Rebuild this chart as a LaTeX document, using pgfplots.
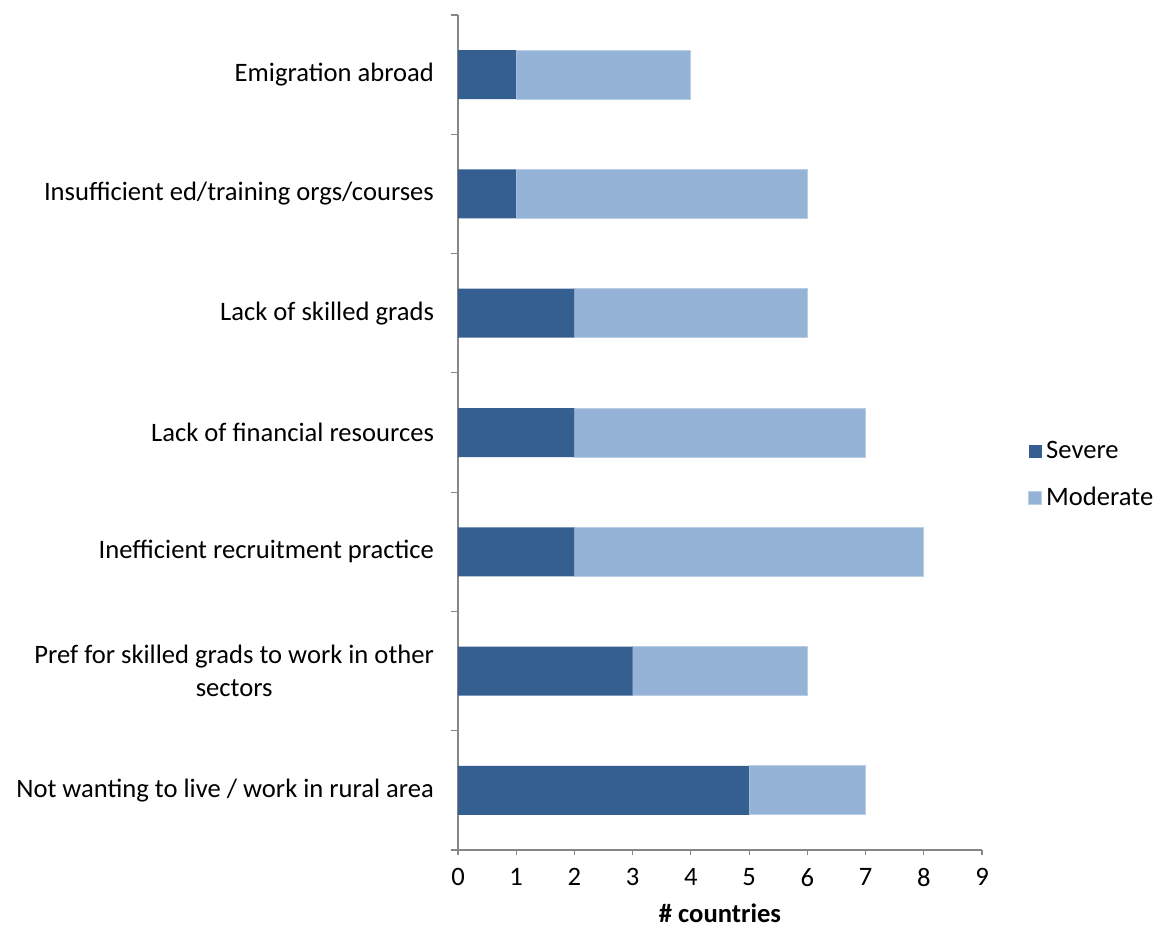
\documentclass[border=0pt]{standalone}
\usepackage{pgfplots}
\pgfplotsset{compat=1.18}
\usepackage{fontspec}
\setmainfont{Carlito}
\definecolor{sev}{RGB}{54,95,145}
\definecolor{mod}{RGB}{149,179,215}
\definecolor{modedge}{RGB}{185,205,229}
\definecolor{axgray}{RGB}{134,134,134}
\begin{document}
\begin{tikzpicture}
\useasboundingbox (0,0) rectangle (578pt,464pt);
\begin{axis}[
  at={(229pt,39pt)}, anchor=south west,
  scale only axis, width=262pt, height=417.5pt,
  xbar stacked, bar width=24.5pt,
  xmin=0, xmax=9, ymin=-0.5, ymax=6.5,
  xtick={0,...,9}, ytick={0,...,6},
  yticklabels={Not wanting to live / work in rural area,
    {Pref for skilled grads to work in other\\sectors},
    Inefficient recruitment practice,
    Lack of financial resources,
    Lack of skilled grads,
    Insufficient ed/training orgs/courses,
    Emigration abroad},
  yticklabel style={align=center, font=\fontsize{13.3}{16.5}\selectfont, xshift=-6pt},
  xticklabel style={font=\fontsize{13.3}{16}\selectfont, yshift=-3pt},
  /pgf/number format/assume math mode=true,
  axis lines*=left,
  axis line style={axgray, line width=0.8pt},
  tick align=outside,
  major tick length=2.5pt,
  tick style={axgray, line width=0.6pt},
  ytick style={draw=none},
  extra y ticks={-0.5,0.5,1.5,2.5,3.5,4.5,5.5,6.5},
  extra y tick labels={},
  extra y tick style={ytick style={draw=axgray, line width=0.6pt}, major tick length=3.5pt},
  xlabel={\textbf{\# countries}},
  xlabel style={font=\fontsize{13.3}{16}\selectfont, yshift=-2pt},
  legend style={at={(axis description cs:1.0,0.449)}, anchor=west, xshift=20pt,
    draw=none, fill=none, font=\fontsize{13.3}{16}\selectfont, row sep=9pt,
    legend cell align=left},
  legend image code/.code={\fill[#1] (0pt,-3.2pt) rectangle (6.4pt,3.2pt);},
]
\addplot[fill=sev, draw=none] coordinates {(5,0) (3,1) (2,2) (2,3) (2,4) (1,5) (1,6)};
\addplot[fill=mod, draw=modedge, line width=0.5pt] coordinates {(2,0) (3,1) (6,2) (5,3) (4,4) (5,5) (3,6)};
\legend{Severe, Moderate}
\end{axis}
\end{tikzpicture}
\end{document}
